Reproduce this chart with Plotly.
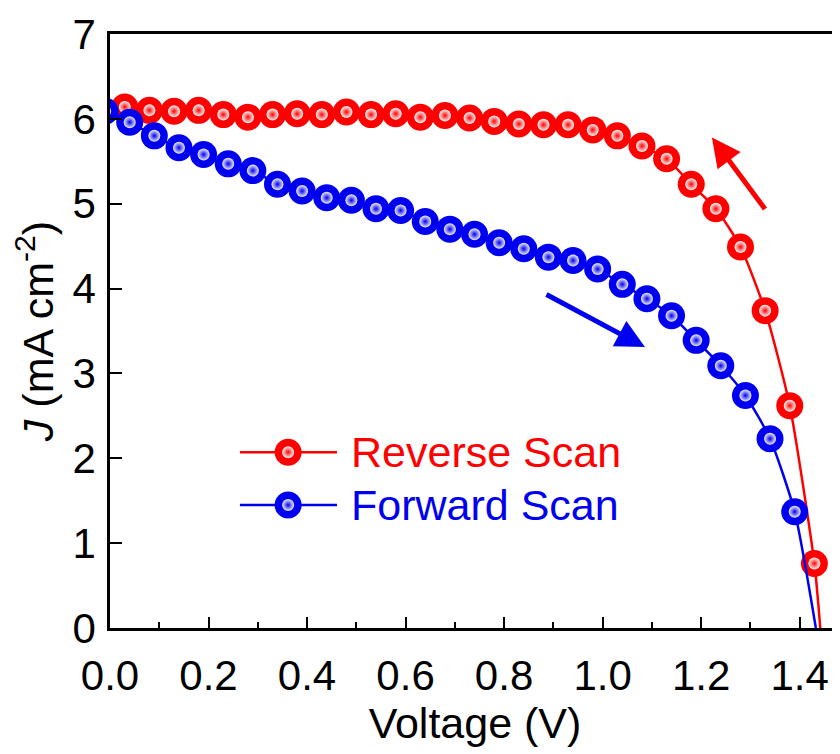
import plotly.graph_objects as go

# ---------------- data ----------------
rev_v = [0.03, 0.08, 0.13, 0.18, 0.23, 0.28, 0.33, 0.38, 0.43, 0.48, 0.53, 0.58, 0.63, 0.68, 0.73,
         0.78, 0.83, 0.88, 0.93, 0.98, 1.03, 1.08, 1.13, 1.18, 1.23, 1.28, 1.33, 1.38, 1.43]
rev_j = [6.14, 6.10, 6.09, 6.10, 6.05, 6.02, 6.05, 6.06, 6.05, 6.08, 6.05, 6.06, 6.02, 6.04, 6.01,
         5.97, 5.94, 5.93, 5.93, 5.87, 5.80, 5.68, 5.53, 5.23, 4.94, 4.49, 3.74, 2.62, 0.76]

fwd_v = [-0.01, 0.04, 0.09, 0.14, 0.19, 0.24, 0.29, 0.34, 0.39, 0.44, 0.49, 0.54, 0.59, 0.64, 0.69,
         0.74, 0.79, 0.84, 0.89, 0.94, 0.99, 1.04, 1.09, 1.14, 1.19, 1.24, 1.29, 1.34, 1.39]
fwd_j = [6.09, 5.96, 5.80, 5.66, 5.58, 5.47, 5.39, 5.23, 5.15, 5.07, 5.04, 4.94, 4.92, 4.79, 4.70,
         4.64, 4.54, 4.47, 4.37, 4.33, 4.23, 4.05, 3.88, 3.68, 3.39, 3.09, 2.74, 2.23, 1.37]

# open-circuit voltages where the curves meet J = 0
rev_voc = 1.442
fwd_voc = 1.433

series_names = ["Reverse Scan", "Forward Scan"]

x_ticks = [0.0, 0.2, 0.4, 0.6, 0.8, 1.0, 1.2, 1.4]
x_tick_text = ["0.0", "0.2", "0.4", "0.6", "0.8", "1.0", "1.2", "1.4"]
y_ticks = [0, 1, 2, 3, 4, 5, 6, 7]

# scan-direction arrows: (tail V, tail J, tip V, tip J)
rev_arrow = [1.332, 4.92, 1.222, 5.78]
fwd_arrow = [0.883, 3.94, 1.086, 3.31]

# ---------------- styling ----------------
RED = "#ff0000"
BLUE = "#0000f0"
RED_HI = "rgba(255,250,250,1)"
BLUE_HI = "rgba(240,240,255,1)"
FONT = "Arial, 'Liberation Sans', sans-serif"
MSIZE = 27
HSIZE = 12

fig = go.Figure()


def add_series(v, j, voc, color, hi):
    fig.add_trace(go.Scatter(x=v + [voc], y=j + [0.0], mode="lines",
                             line=dict(color=color, width=2.5, shape="spline", smoothing=0.6),
                             showlegend=False, hoverinfo="skip"))
    fig.add_trace(go.Scatter(x=v, y=j, mode="markers",
                             marker=dict(size=MSIZE, color=color, line=dict(width=0)),
                             showlegend=False))
    fig.add_trace(go.Scatter(x=v, y=j, mode="markers",
                             marker=dict(size=HSIZE, color=hi, line=dict(width=0),
                                         gradient=dict(type="radial", color=color)),
                             showlegend=False, hoverinfo="skip"))


add_series(rev_v, rev_j, rev_voc, RED, RED_HI)
add_series(fwd_v, fwd_j, fwd_voc, BLUE, BLUE_HI)

# ---------------- custom legend (on a hidden overlay axis in [0,1] units) ----------------
leg_rows = [0.296, 0.207]
leg_line_x = [0.178, 0.311]
leg_mark_x = 0.244
leg_text_x = 0.328
for name, row, color, hi in zip(series_names, leg_rows, [RED, BLUE], [RED_HI, BLUE_HI]):
    fig.add_trace(go.Scatter(x=leg_line_x, y=[row, row], xaxis="x2", yaxis="y2", mode="lines",
                             line=dict(color=color, width=2.5), showlegend=False, hoverinfo="skip"))
    fig.add_trace(go.Scatter(x=[leg_mark_x], y=[row], xaxis="x2", yaxis="y2", mode="markers",
                             marker=dict(size=MSIZE, color=color, line=dict(width=0)),
                             showlegend=False, hoverinfo="skip"))
    fig.add_trace(go.Scatter(x=[leg_mark_x], y=[row], xaxis="x2", yaxis="y2", mode="markers",
                             marker=dict(size=HSIZE, color=hi, line=dict(width=0),
                                         gradient=dict(type="radial", color=color)),
                             showlegend=False, hoverinfo="skip"))
    fig.add_annotation(x=leg_text_x, y=row, xref="x2", yref="y2", text=name, showarrow=False,
                       xanchor="left", yanchor="middle",
                       font=dict(family=FONT, size=43, color=color))

# ---------------- arrows ----------------
for arr, color in [(rev_arrow, RED), (fwd_arrow, BLUE)]:
    fig.add_annotation(x=arr[2], y=arr[3], ax=arr[0], ay=arr[1], xref="x", yref="y",
                       axref="x", ayref="y", text="", showarrow=True,
                       arrowhead=2, arrowsize=1.15, arrowwidth=5, arrowcolor=color, standoff=0)

# ---------------- axes / layout ----------------
# (the page body keeps its default 8 px margin, so the figure is 8 px smaller
#  and its margins are shifted to land the plot area where the reference has it)
fig.update_layout(
    width=832, height=746,
    margin=dict(l=102, r=0, t=26, b=126),
    paper_bgcolor="white", plot_bgcolor="white",
    font=dict(family=FONT, color="black"),
    showlegend=False,
    xaxis=dict(range=[0, 1.482], tickvals=x_ticks, ticktext=x_tick_text, automargin=False,
               ticks="inside", ticklen=11, tickwidth=2, tickcolor="black",
               minor=dict(dtick=0.1, tick0=0, ticks="inside", ticklen=6, tickwidth=2,
                          tickcolor="black", showgrid=False),
               showline=True, linecolor="black", linewidth=2.5, mirror=True,
               showgrid=False, zeroline=False,
               tickfont=dict(family=FONT, size=42, color="black"),
               ticklabelstandoff=9,
               title=dict(text="Voltage (V)", font=dict(family=FONT, size=43, color="black"),
                          standoff=4)),
    yaxis=dict(range=[0, 7], tickvals=y_ticks, automargin=False,
               ticks="inside", ticklen=12, tickwidth=2, tickcolor="black",
               showline=True, linecolor="black", linewidth=2.5, mirror=False,
               showgrid=False, zeroline=False,
               tickfont=dict(family=FONT, size=42, color="black"),
               ticklabelstandoff=3,
               title=dict(text="<i>J</i> (mA cm<sup>-2</sup>)",
                          font=dict(family=FONT, size=43, color="black"),
                          standoff=8)),
    xaxis2=dict(overlaying="x", range=[0, 1], visible=False, fixedrange=True),
    yaxis2=dict(overlaying="y", range=[0, 1], visible=False, fixedrange=True),
)

fig.write_html("out.html", config={"displayModeBar": False})
